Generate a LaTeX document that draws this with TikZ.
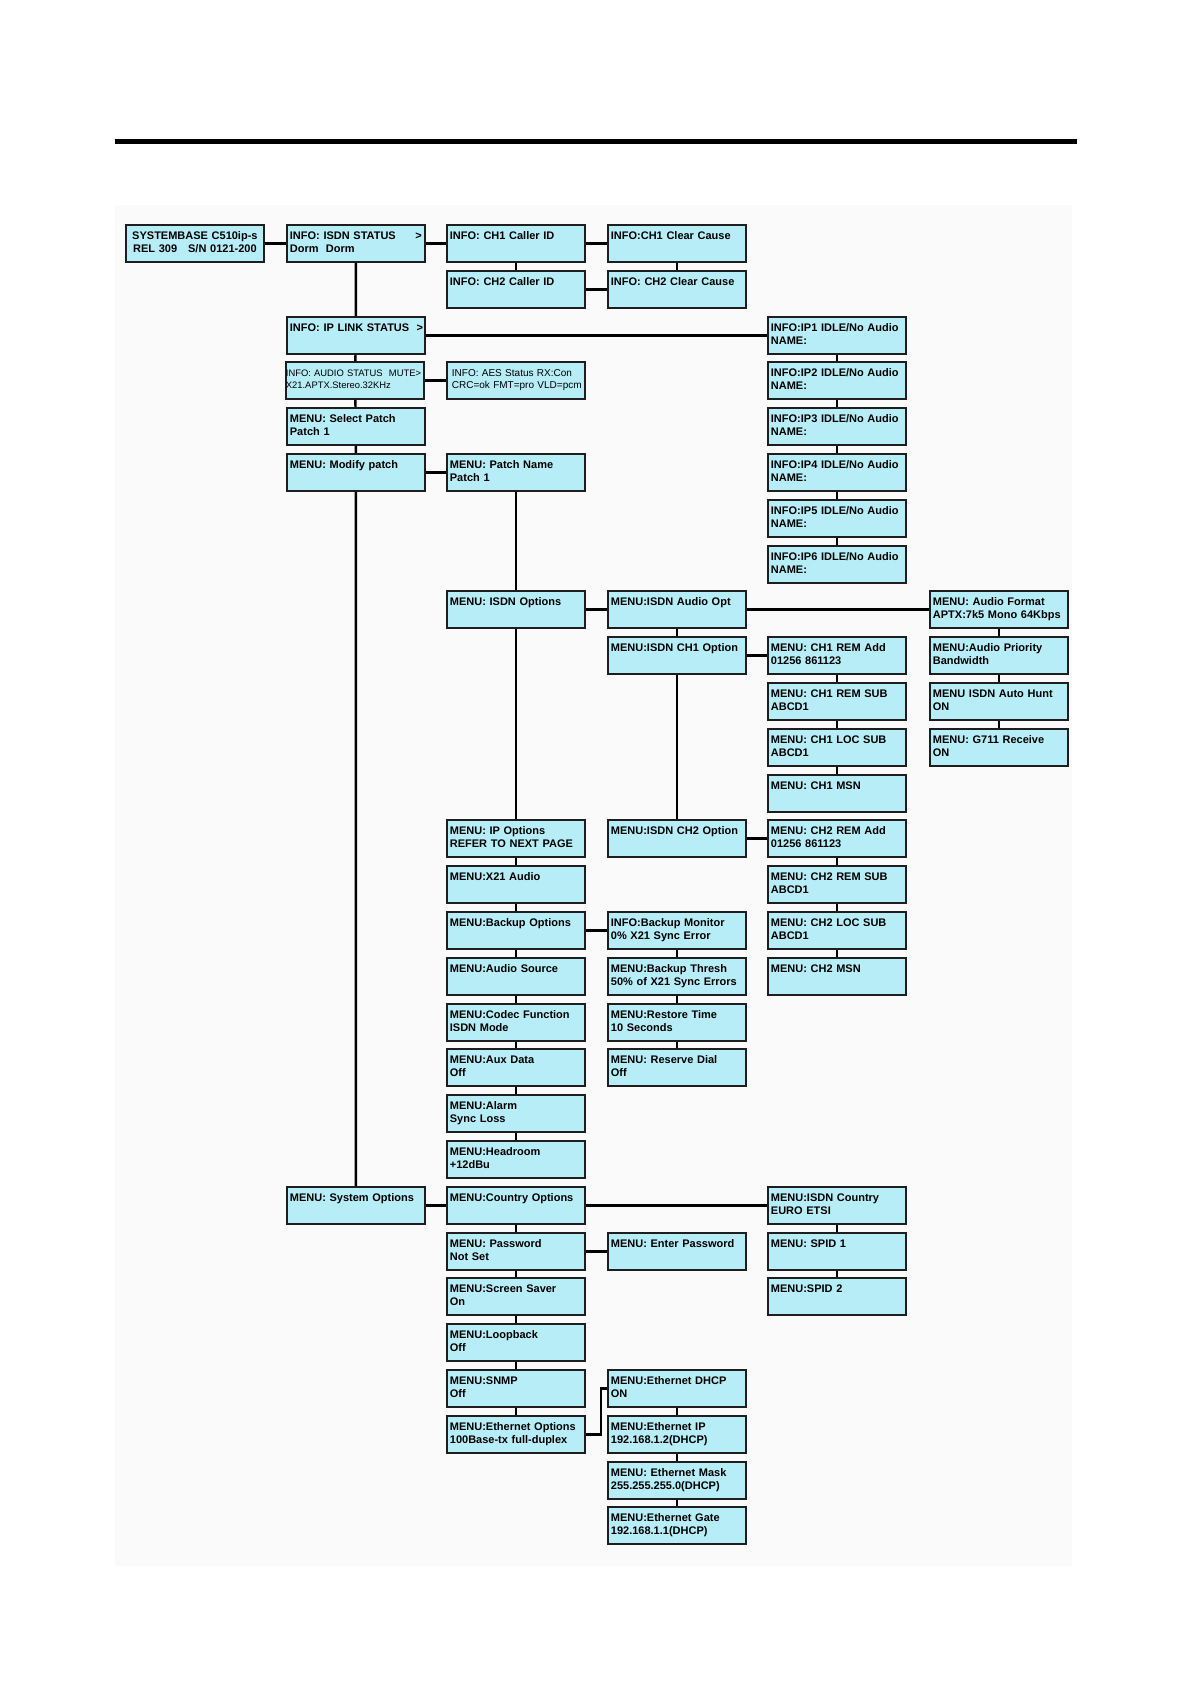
\documentclass[tikz,border=0pt]{standalone}
\usepackage{fontspec}
\setmainfont{Liberation Sans}
\usepackage{xcolor}
\definecolor{boxcyan}{RGB}{182,237,247}
\definecolor{edgegray}{RGB}{30,30,30}
\tikzset{
    menubox/.style={draw=edgegray, fill=boxcyan, line width=0.9pt, anchor=north west,
        minimum width=69pt, minimum height=18.5pt, text width=66pt, align=left,
        inner xsep=1.5pt, inner ysep=0pt, text height=4.2pt, text depth=8pt,
        font=\fontsize{5.5}{6.6}\selectfont\bfseries},
    smallbox/.style={menubox, font=\fontsize{5}{6}\selectfont},
    link/.style={draw=black, line width=1.2pt}
}

\begin{document}
\begin{tikzpicture}[x=0.5pt, y=-0.5pt]
    \useasboundingbox (0,0) rectangle (1190,1684);
    \fill[black!2] (115,205) rectangle (1072,1566);
    \fill[black] (115,139) rectangle (1077,144);

    % info screens
    \node[menubox, align=center] (sysbase) at (125,224) {SYSTEMBASE C510ip-s\\REL 309~~~S/N 0121-200};
    \node[menubox] (isdnstat) at (286,224) {INFO: ISDN STATUS\hfill>~\\Dorm~~Dorm};
    \node[menubox] (ch1caller) at (446,224) {INFO: CH1 Caller ID};
    \node[menubox] (ch1clear) at (607,224) {INFO:CH1 Clear Cause};
    \node[menubox] (ch2caller) at (446,270) {INFO: CH2 Caller ID};
    \node[menubox] (ch2clear) at (607,270) {INFO: CH2 Clear Cause};
    \node[menubox] (iplink) at (286,316) {\mbox{INFO: IP LINK STATUS~~>}};
    \node[menubox] (ip1) at (767,316) {INFO:IP1 IDLE/No Audio\\NAME:};
    \node[menubox] (ip2) at (767,361) {INFO:IP2 IDLE/No Audio\\NAME:};
    \node[menubox] (ip3) at (767,407) {INFO:IP3 IDLE/No Audio\\NAME:};
    \node[menubox] (ip4) at (767,453) {INFO:IP4 IDLE/No Audio\\NAME:};
    \node[menubox] (ip5) at (767,499) {INFO:IP5 IDLE/No Audio\\NAME:};
    \node[menubox] (ip6) at (767,545) {INFO:IP6 IDLE/No Audio\\NAME:};
    \node[smallbox, text width=69pt, inner xsep=0pt, font=\fontsize{4.7}{6}\selectfont] (audiostat) at (285,361) {\mbox{INFO: AUDIO STATUS~~MUTE>}\\X21.APTX.Stereo.32KHz};
    \node[smallbox, inner xsep=2.5pt, text width=64pt] (aes) at (446,361) {\mbox{INFO: AES Status RX:Con}\\\mbox{CRC=ok FMT=pro VLD=pcm}};

    % patch menus
    \node[menubox] (selpatch) at (286,407) {MENU: Select Patch\\Patch 1};
    \node[menubox] (modpatch) at (286,453) {MENU: Modify patch};
    \node[menubox] (patchname) at (446,453) {MENU: Patch Name\\Patch 1};
    \node[menubox] (isdnopt) at (446,590) {MENU: ISDN Options};
    \node[menubox] (audioopt) at (607,590) {MENU:ISDN Audio Opt};
    \node[menubox] (audiofmt) at (929,590) {MENU: Audio Format\\\mbox{APTX:7k5 Mono 64Kbps}};
    \node[menubox] (audioprio) at (929,636) {MENU:Audio Priority\\Bandwidth};
    \node[menubox] (autohunt) at (929,682) {MENU ISDN Auto Hunt\\ON};
    \node[menubox] (gsevenrx) at (929,728) {MENU: G711 Receive\\ON};
    \node[menubox] (ch1opt) at (607,636) {\mbox{MENU:ISDN CH1 Option}};
    \node[menubox] (ch1remadd) at (767,636) {MENU: CH1 REM Add\\01256 861123};
    \node[menubox] (ch1remsub) at (767,682) {MENU: CH1 REM SUB\\ABCD1};
    \node[menubox] (ch1locsub) at (767,728) {MENU: CH1 LOC SUB\\ABCD1};
    \node[menubox] (ch1msn) at (767,774) {MENU: CH1 MSN};
    \node[menubox] (ch2opt) at (607,819) {\mbox{MENU:ISDN CH2 Option}};
    \node[menubox] (ch2remadd) at (767,819) {MENU: CH2 REM Add\\01256 861123};
    \node[menubox] (ch2remsub) at (767,865) {MENU: CH2 REM SUB\\ABCD1};
    \node[menubox] (ch2locsub) at (767,911) {MENU: CH2 LOC SUB\\ABCD1};
    \node[menubox] (ch2msn) at (767,957) {MENU: CH2 MSN};
    \node[menubox] (ipopt) at (446,819) {MENU: IP Options\\REFER TO NEXT PAGE};
    \node[menubox] (xaudio) at (446,865) {MENU:X21 Audio};
    \node[menubox] (backup) at (446,911) {MENU:Backup Options};
    \node[menubox] (bkmonitor) at (607,911) {INFO:Backup Monitor\\0\% X21 Sync Error};
    \node[menubox] (bkthresh) at (607,957) {MENU:Backup Thresh\\\mbox{50\% of X21 Sync Errors}};
    \node[menubox] (restore) at (607,1003) {MENU:Restore Time\\10 Seconds};
    \node[menubox] (reserve) at (607,1048) {MENU: Reserve Dial\\Off};
    \node[menubox] (audiosrc) at (446,957) {MENU:Audio Source};
    \node[menubox] (codec) at (446,1003) {MENU:Codec Function\\ISDN Mode};
    \node[menubox] (auxdata) at (446,1048) {MENU:Aux Data\\Off};
    \node[menubox] (alarm) at (446,1094) {MENU:Alarm\\Sync Loss};
    \node[menubox] (headroom) at (446,1140) {MENU:Headroom\\+12dBu};

    % system menus
    \node[menubox] (sysopt) at (286,1186) {MENU: System Options};
    \node[menubox] (country) at (446,1186) {MENU:Country Options};
    \node[menubox] (isdncountry) at (767,1186) {MENU:ISDN Country\\EURO ETSI};
    \node[menubox] (spidone) at (767,1232) {MENU: SPID 1};
    \node[menubox] (spidtwo) at (767,1277) {MENU:SPID 2};
    \node[menubox] (password) at (446,1232) {MENU: Password\\Not Set};
    \node[menubox] (enterpw) at (607,1232) {MENU: Enter Password};
    \node[menubox] (screensaver) at (446,1277) {MENU:Screen Saver\\On};
    \node[menubox] (loopback) at (446,1323) {MENU:Loopback\\Off};
    \node[menubox] (snmp) at (446,1369) {MENU:SNMP\\Off};
    \node[menubox] (ethopt) at (446,1415) {\mbox{MENU:Ethernet Options}\\100Base-tx full-duplex};
    \node[menubox] (ethdhcp) at (607,1369) {MENU:Ethernet DHCP\\ON};
    \node[menubox] (ethip) at (607,1415) {MENU:Ethernet IP\\192.168.1.2(DHCP)};
    \node[menubox] (ethmask) at (607,1461) {MENU: Ethernet Mask\\255.255.255.0(DHCP)};
    \node[menubox] (ethgate) at (607,1506) {MENU:Ethernet Gate\\192.168.1.1(DHCP)};

    % connectors
    \draw[link] (sysbase) -- (isdnstat) -- (ch1caller) -- (ch1clear);
    \draw[link] (ch1caller) -- (ch2caller) -- (ch2clear) -- (ch1clear);
    \draw[link] (isdnstat) -- (iplink) -- (audiostat) -- (selpatch) -- (modpatch) -- (sysopt);
    \draw[link] (iplink) -- (ip1) -- (ip2) -- (ip3) -- (ip4) -- (ip5) -- (ip6);
    \draw[link] (audiostat) -- (aes);
    \draw[link] (modpatch) -- (patchname) -- (isdnopt) -- (ipopt);
    \draw[link] (isdnopt) -- (audioopt) -- (audiofmt) -- (audioprio) -- (autohunt) -- (gsevenrx);
    \draw[link] (audioopt) -- (ch1opt) -- (ch2opt);
    \draw[link] (ch1opt) -- (ch1remadd) -- (ch1remsub) -- (ch1locsub) -- (ch1msn);
    \draw[link] (ch2opt) -- (ch2remadd) -- (ch2remsub) -- (ch2locsub) -- (ch2msn);
    \draw[link] (ipopt) -- (xaudio) -- (backup) -- (audiosrc) -- (codec) -- (auxdata) -- (alarm) -- (headroom);
    \draw[link] (backup) -- (bkmonitor) -- (bkthresh) -- (restore) -- (reserve);
    \draw[link] (sysopt) -- (country) -- (isdncountry) -- (spidone) -- (spidtwo);
    \draw[link] (country) -- (password) -- (screensaver) -- (loopback) -- (snmp) -- (ethopt);
    \draw[link] (password) -- (enterpw);
    \draw[link] (ethopt.east) -- ++(15,0) |- (ethdhcp.west);
    \draw[link] (ethdhcp) -- (ethip) -- (ethmask) -- (ethgate);
\end{tikzpicture}
\end{document}
